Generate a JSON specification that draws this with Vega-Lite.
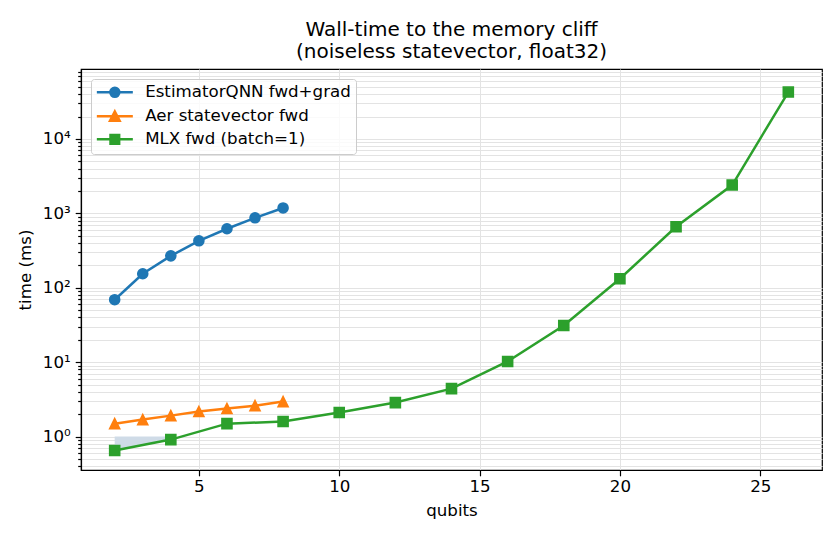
{
  "$schema": "https://vega.github.io/schema/vega-lite/v6.json",
  "width": 741,
  "height": 401,
  "autosize": {"type": "none"},
  "padding": {"left": 81, "top": 69, "right": 18, "bottom": 70},
  "background": "white",
  "config": {
    "font": "DejaVu Sans",
    "view": {"stroke": "black", "strokeWidth": 1.2},
    "axis": {
      "domainColor": "black",
      "domainWidth": 1.2,
      "tickColor": "black",
      "tickWidth": 1.2,
      "labelColor": "black",
      "titleColor": "black",
      "labelFontSize": 16.67,
      "titleFontSize": 16.67,
      "titleFontWeight": "normal",
      "gridColor": "#e3e3e3",
      "gridWidth": 1,
      "labelOverlap": false
    },
    "legend": {
      "labelLimit": 400,
      "symbolOpacity": 1
    }
  },
  "title": {
    "text": ["Wall-time to the memory cliff", "(noiseless statevector, float32)"],
    "fontSize": 20,
    "fontWeight": "normal",
    "color": "black",
    "anchor": "middle",
    "frame": "group",
    "offset": 2,
    "lineHeight": 22
  },
  "datasets": {
    "timings": [
      {"series": "EstimatorQNN fwd+grad", "qubits": 2, "ms": 69},
      {"series": "EstimatorQNN fwd+grad", "qubits": 3, "ms": 154},
      {"series": "EstimatorQNN fwd+grad", "qubits": 4, "ms": 268},
      {"series": "EstimatorQNN fwd+grad", "qubits": 5, "ms": 427},
      {"series": "EstimatorQNN fwd+grad", "qubits": 6, "ms": 620},
      {"series": "EstimatorQNN fwd+grad", "qubits": 7, "ms": 870},
      {"series": "EstimatorQNN fwd+grad", "qubits": 8, "ms": 1180},
      {"series": "Aer statevector fwd", "qubits": 2, "ms": 1.49},
      {"series": "Aer statevector fwd", "qubits": 3, "ms": 1.69},
      {"series": "Aer statevector fwd", "qubits": 4, "ms": 1.91},
      {"series": "Aer statevector fwd", "qubits": 5, "ms": 2.17},
      {"series": "Aer statevector fwd", "qubits": 6, "ms": 2.38},
      {"series": "Aer statevector fwd", "qubits": 7, "ms": 2.6},
      {"series": "Aer statevector fwd", "qubits": 8, "ms": 2.95},
      {"series": "MLX fwd (batch=1)", "qubits": 2, "ms": 0.65},
      {"series": "MLX fwd (batch=1)", "qubits": 4, "ms": 0.91},
      {"series": "MLX fwd (batch=1)", "qubits": 6, "ms": 1.49},
      {"series": "MLX fwd (batch=1)", "qubits": 8, "ms": 1.59},
      {"series": "MLX fwd (batch=1)", "qubits": 10, "ms": 2.1},
      {"series": "MLX fwd (batch=1)", "qubits": 12, "ms": 2.86},
      {"series": "MLX fwd (batch=1)", "qubits": 14, "ms": 4.4},
      {"series": "MLX fwd (batch=1)", "qubits": 16, "ms": 10.2},
      {"series": "MLX fwd (batch=1)", "qubits": 18, "ms": 31},
      {"series": "MLX fwd (batch=1)", "qubits": 20, "ms": 132},
      {"series": "MLX fwd (batch=1)", "qubits": 22, "ms": 660},
      {"series": "MLX fwd (batch=1)", "qubits": 24, "ms": 2400},
      {"series": "MLX fwd (batch=1)", "qubits": 26, "ms": 42600}
    ],
    "band": [
      {"qubits": 2, "lo": 0.65, "hi": 1.0},
      {"qubits": 4, "lo": 0.91, "hi": 1.0}
    ]
  },
  "layer": [
    {
      "data": {"name": "band"},
      "mark": {"type": "area", "color": "#cfdbe7", "opacity": 1},
      "encoding": {
        "x": {"field": "qubits", "type": "quantitative"},
        "y": {"field": "lo", "type": "quantitative"},
        "y2": {"field": "hi"}
      }
    },
    {
      "data": {"name": "timings"},
      "mark": {"type": "line", "strokeWidth": 2.5},
      "encoding": {
        "x": {"field": "qubits", "type": "quantitative"},
        "y": {"field": "ms", "type": "quantitative"},
        "color": {
          "field": "series",
          "type": "nominal",
          "title": null,
          "sort": null,
          "scale": {
            "domain": ["EstimatorQNN fwd+grad", "Aer statevector fwd", "MLX fwd (batch=1)"],
            "range": ["#1f77b4", "#ff7f0e", "#2ca02c"]
          },
          "legend": {
            "title": null, "orient": "top-left", "offset": 10, "padding": 5,
            "strokeColor": "#cccccc", "fillColor": "rgba(255,255,255,0.8)", "cornerRadius": 3,
            "labelFontSize": 16.67, "labelColor": "black", "labelLimit": 400,
            "symbolSize": 144, "symbolStrokeWidth": 2.5, "symbolOffset": 10.5,
            "labelOffset": 22, "rowPadding": 4, "symbolOpacity": 1
          }
        }
      }
    },
    {
      "data": {"name": "timings"},
      "mark": {"type": "point", "filled": true, "size": 0, "opacity": 1},
      "encoding": {
        "x": {"field": "qubits", "type": "quantitative"},
        "y": {"field": "ms", "type": "quantitative"},
        "color": {
          "field": "series",
          "type": "nominal",
          "title": null,
          "sort": null,
          "scale": {
            "domain": ["EstimatorQNN fwd+grad", "Aer statevector fwd", "MLX fwd (batch=1)"],
            "range": ["#1f77b4", "#ff7f0e", "#2ca02c"]
          },
          "legend": {
            "title": null, "orient": "top-left", "offset": 10, "padding": 5,
            "strokeColor": "#cccccc", "fillColor": "rgba(255,255,255,0.8)", "cornerRadius": 3,
            "labelFontSize": 16.67, "labelColor": "black", "labelLimit": 400,
            "symbolSize": 144, "symbolStrokeWidth": 2.5, "symbolOffset": 10.5,
            "labelOffset": 22, "rowPadding": 4, "symbolOpacity": 1
          }
        },
        "stroke": {
          "field": "series",
          "type": "nominal",
          "title": null,
          "sort": null,
          "scale": {
            "domain": ["EstimatorQNN fwd+grad", "Aer statevector fwd", "MLX fwd (batch=1)"],
            "range": ["#1f77b4", "#ff7f0e", "#2ca02c"]
          },
          "legend": {
            "title": null, "orient": "top-left", "offset": 10, "padding": 5,
            "strokeColor": "#cccccc", "fillColor": "rgba(255,255,255,0.8)", "cornerRadius": 3,
            "labelFontSize": 16.67, "labelColor": "black", "labelLimit": 400,
            "symbolSize": 144, "symbolStrokeWidth": 2.5, "symbolOffset": 10.5,
            "labelOffset": 22, "rowPadding": 4, "symbolOpacity": 1
          }
        },
        "shape": {
          "field": "series",
          "type": "nominal",
          "title": null,
          "sort": null,
          "scale": {
            "domain": ["EstimatorQNN fwd+grad", "Aer statevector fwd", "MLX fwd (batch=1)"],
            "range": [
              "M-3,0H3M0.75,0A0.75,0.75 0 1,1 -0.75,0A0.75,0.75 0 1,1 0.75,0Z",
              "M-3,0H3M0,-0.8L0.8,0.75L-0.8,0.75Z",
              "M-3,0H3M-0.72,-0.72H0.72V0.72H-0.72Z"
            ]
          },
          "legend": {
            "title": null, "orient": "top-left", "offset": 10, "padding": 5,
            "strokeColor": "#cccccc", "fillColor": "rgba(255,255,255,0.8)", "cornerRadius": 3,
            "labelFontSize": 16.67, "labelColor": "black", "labelLimit": 400,
            "symbolSize": 144, "symbolStrokeWidth": 2.5, "symbolOffset": 10.5,
            "labelOffset": 22, "rowPadding": 4, "symbolOpacity": 1
          }
        }
      }
    },
    {
      "data": {"name": "timings"},
      "transform": [{"filter": {"field": "series", "equal": "EstimatorQNN fwd+grad"}}],
      "mark": {"type": "point", "filled": true, "opacity": 1, "size": 100, "shape": "circle", "color": "#1f77b4", "stroke": "#1f77b4", "strokeWidth": 1.6},
      "encoding": {
        "x": {"field": "qubits", "type": "quantitative"},
        "y": {"field": "ms", "type": "quantitative"}
      }
    },
    {
      "data": {"name": "timings"},
      "transform": [{"filter": {"field": "series", "equal": "Aer statevector fwd"}}],
      "mark": {"type": "point", "filled": true, "opacity": 1, "size": 100, "shape": "M0,-1L1,1L-1,1Z", "color": "#ff7f0e", "stroke": "#ff7f0e", "strokeWidth": 1.6},
      "encoding": {
        "x": {"field": "qubits", "type": "quantitative"},
        "y": {"field": "ms", "type": "quantitative"}
      }
    },
    {
      "data": {"name": "timings"},
      "transform": [{"filter": {"field": "series", "equal": "MLX fwd (batch=1)"}}],
      "mark": {"type": "point", "filled": true, "opacity": 1, "size": 100, "shape": "square", "color": "#2ca02c", "stroke": "#2ca02c", "strokeWidth": 1.6},
      "encoding": {
        "x": {"field": "qubits", "type": "quantitative"},
        "y": {"field": "ms", "type": "quantitative"}
      }
    }
  ],
  "encoding": {
    "x": {
      "field": "qubits",
      "type": "quantitative",
      "title": "qubits",
      "scale": {"domain": [0.8, 27.2], "nice": false, "zero": false},
      "axis": {
        "values": [5, 10, 15, 20, 25],
        "grid": true,
        "tickSize": 5.8,
        "labelPadding": 3,
        "titlePadding": 7
      }
    },
    "y": {
      "field": "ms",
      "type": "quantitative",
      "title": "time (ms)",
      "scale": {"type": "log", "domain": [0.355, 87000], "nice": false},
      "axis": {
        "values": [0.4, 0.5, 0.6, 0.7, 0.8, 0.9, 1, 2, 3, 4, 5, 6, 7, 8, 9, 10, 20, 30, 40, 50, 60, 70, 80, 90, 100, 200, 300, 400, 500, 600, 700, 800, 900, 1000, 2000, 3000, 4000, 5000, 6000, 7000, 8000, 9000, 10000, 20000, 30000, 40000, 50000, 60000, 70000, 80000],
        "grid": true,
        "tickSize": {"condition": {"test": "abs(log(datum.value)/LN10 - round(log(datum.value)/LN10)) < 1e-6", "value": 5.8}, "value": 3.3},
        "labelExpr": "abs(log(datum.value)/LN10 - round(log(datum.value)/LN10)) < 1e-6 ? '10' + ['⁰','¹','²','³','⁴'][round(log(datum.value)/LN10)] : ''",
        "labelPadding": 5,
        "titlePadding": 8
      }
    }
  }
}
